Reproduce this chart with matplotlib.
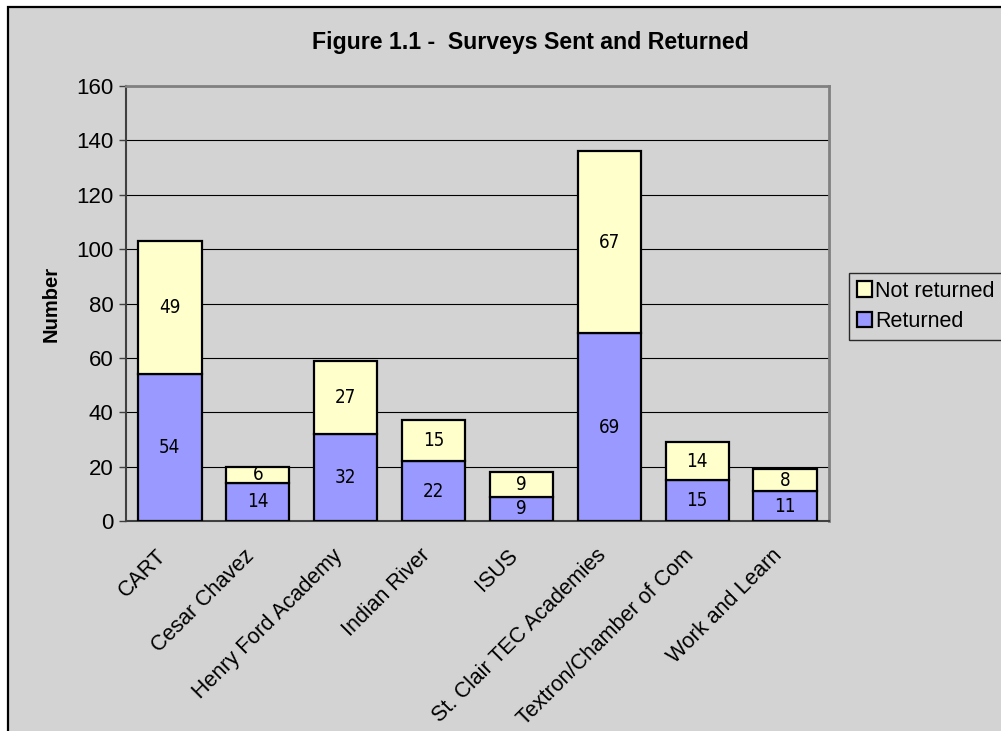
import numpy as np
import matplotlib.pyplot as plt
import matplotlib.transforms as mtransforms
from matplotlib.patches import Rectangle, Patch

# Data
sites = ["CART", "Cesar Chavez", "Henry Ford Academy", "Indian River", "ISUS",
         "St. Clair TEC Academies", "Textron/Chamber of Com", "Work and Learn"]
returned = [54, 14, 32, 22, 9, 69, 15, 11]
not_returned = [49, 6, 27, 15, 9, 67, 14, 8]

# Colours
bg = "#d3d3d3"
blue = "#9999ff"
yellow = "#ffffcc"

plt.rcParams['font.family'] = ['Liberation Sans', 'DejaVu Sans']

fig = plt.figure(figsize=(10.01, 7.31), dpi=100)
fig.patch.set_facecolor("white")

# Chart area (gray panel with black border, cut off at right/bottom)
fig.patches.append(Rectangle((8/1001, -0.05), 1.1, 1 - 7/731 + 0.05,
                             transform=fig.transFigure, facecolor=bg,
                             edgecolor="black", linewidth=1.6, zorder=-5))

ax = fig.add_axes([126/1001, 1 - 521/731, (829 - 126)/1001, (521 - 86)/731])
ax.set_facecolor(bg)

x = np.arange(len(sites))
w = 0.72
ax.bar(x, returned, w, color=blue, edgecolor="black", linewidth=1.6, zorder=3)
ax.bar(x, not_returned, w, bottom=returned, color=yellow, edgecolor="black",
       linewidth=1.6, zorder=3)

# value labels in a narrow face
lab_font = dict(family=['DejaVu Sans'], fontstretch='condensed', fontsize=13.5,
                ha="center", va="center", zorder=4)
for i in range(len(sites)):
    ax.text(x[i], returned[i] / 2, str(returned[i]), **lab_font)
    ax.text(x[i], returned[i] + not_returned[i] / 2, str(not_returned[i]), **lab_font)

ax.set_xlim(-0.5, len(sites) - 0.5)
ax.set_ylim(0, 160)
ax.set_yticks(np.arange(0, 161, 20))
ax.yaxis.grid(True, color="black", linewidth=0.8, zorder=1)
ax.set_axisbelow(True)

ax.set_xticks(x)
ax.set_xticklabels(sites, rotation=45, ha="right", rotation_mode="anchor", fontsize=15.5)
ax.tick_params(axis="x", length=0, pad=8)
shift = mtransforms.ScaledTranslation(-14/100, -13/100, fig.dpi_scale_trans)
for t in ax.get_xticklabels():
    t.set_transform(t.get_transform() + shift)
ax.tick_params(axis="y", labelsize=16, length=5, width=1, color="#404040", pad=4)

for s in ["top", "right"]:
    ax.spines[s].set_color("#808080")
    ax.spines[s].set_linewidth(2)
for s in ["left", "bottom"]:
    ax.spines[s].set_color("#404040")
    ax.spines[s].set_linewidth(1.5)

ax.set_ylabel("Number", fontsize=14.5, fontweight="bold", labelpad=11)

fig.text(530/1001, 1 - 42/731, "Figure 1.1 -  Surveys Sent and Returned",
         ha="center", va="center", fontsize=16.7, fontweight="bold")

handles = [Patch(facecolor=yellow, edgecolor="black", linewidth=1.6),
           Patch(facecolor=blue, edgecolor="black", linewidth=1.6)]
leg = fig.legend(handles, ["Not returned", "Returned"], loc="upper left",
                 bbox_to_anchor=(849/1001, 1 - 273/731), borderaxespad=0,
                 fontsize=15.5, frameon=True, fancybox=False, handlelength=0.7,
                 handleheight=0.7, handletextpad=0.15, borderpad=0.35,
                 labelspacing=0.45)
leg.get_frame().set_facecolor(bg)
leg.get_frame().set_edgecolor("black")
leg.get_frame().set_linewidth(1)

fig.savefig("out.png", dpi=100, facecolor=fig.get_facecolor())
